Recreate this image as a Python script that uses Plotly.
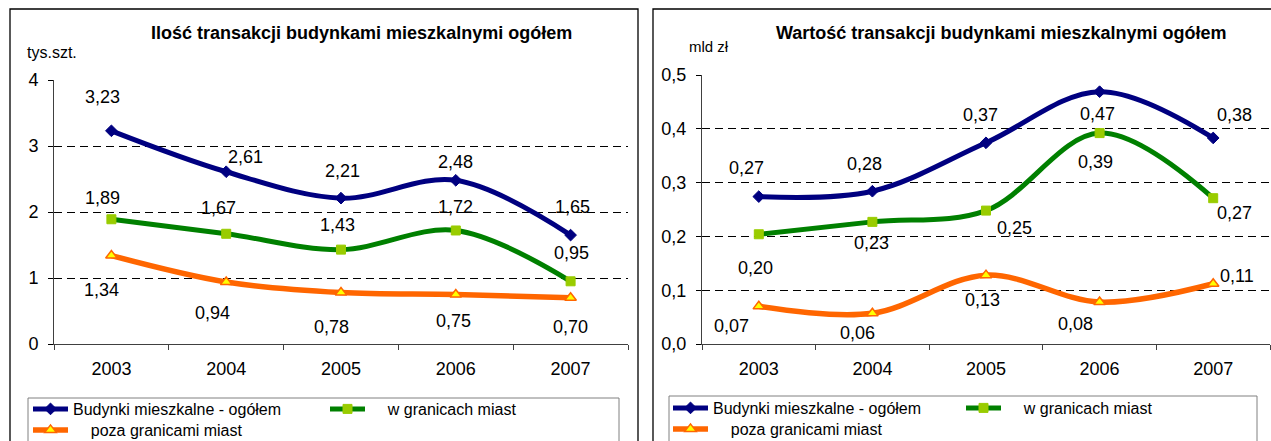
import plotly.graph_objects as go

# ---------------- data ----------------
years = ["2003", "2004", "2005", "2006", "2007"]

# left chart: number of transactions (thousand pcs.)
cnt_total = [3.23, 2.61, 2.21, 2.48, 1.65]
cnt_city = [1.89, 1.67, 1.43, 1.72, 0.95]
cnt_outside = [1.34, 0.94, 0.78, 0.75, 0.70]

# right chart: value of transactions (bn PLN)
val_total = [0.274, 0.284, 0.374, 0.469, 0.383]
val_city = [0.204, 0.227, 0.248, 0.392, 0.271]
val_outside = [0.070, 0.057, 0.128, 0.078, 0.112]

left_yticks = [0, 1, 2, 3, 4]
right_yticks = [0.0, 0.1, 0.2, 0.3, 0.4, 0.5]

series_names = ["Budynki mieszkalne - ogółem", "w granicach miast", "poza granicami miast"]
title_left = "Ilość transakcji budynkami mieszkalnymi ogółem"
title_right = "Wartość transakcji budynkami mieszkalnymi ogółem"
unit_left = "tys.szt."
unit_right = "mld zł"

# ---------------- styles ----------------
W, H = 1271, 441
FONT = "Liberation Sans"
C_BLUE, C_GREEN, C_ORANGE = "#000080", "#008000", "#FF6600"


def px(x):
    return x / W


def py(y):
    return (H - y) / H


# label offsets (pixels, dx right, dy up) per point
off_left = [
    [(-9, 34), (19, 15), (1, 27), (0, 18), (2, 28)],
    [(-9, 21), (-8, 26), (-4, 25), (0, 23), (1, 28)],
    [(-10, -34), (-14, -31), (-10, -34), (-2, -26), (0, -29)],
]
off_right = [
    [(-12, 29), (-8, 27), (-6, 28), (-2, -22), (21, 23)],
    [(-3, -34), (-1, -21), (28, -17), (-4, -29), (21, -15)],
    [(-27, -20), (-15, -20), (-4, -25), (-24, -22), (24, 8)],
]

styles = [
    dict(color=C_BLUE, width=5, symbol="diamond", mcolor=C_BLUE, mline=C_BLUE, msize=9, mlw=1),
    dict(color=C_GREEN, width=5, symbol="square", mcolor="#99CC00", mline="#99CC00", msize=9, mlw=1),
    dict(color=C_ORANGE, width=5.5, symbol="triangle-up", mcolor="#FFFF00", mline=C_ORANGE, msize=10, mlw=1.5),
]

NB = "\u00a0"
legend_labels = [series_names[0], NB * 4 + series_names[1], NB * 4 + series_names[2]]

fig = go.Figure()


def add_series(values_list, xa, ya, legends):
    for i, vals in enumerate(values_list):
        s = styles[i]
        fig.add_trace(go.Scatter(
            x=years, y=vals, xaxis=xa, yaxis=ya,
            name=legend_labels[i], legend=legends[i],
            mode="lines+markers",
            line=dict(color=s["color"], width=s["width"], shape="spline", smoothing=1.0),
            marker=dict(symbol=s["symbol"], size=s["msize"], color=s["mcolor"],
                        line=dict(color=s["mline"], width=s["mlw"])),
            hoverinfo="skip",
        ))


add_series([cnt_total, cnt_city, cnt_outside], "x", "y", ["legend", "legend", "legend3"])
add_series([val_total, val_city, val_outside], "x2", "y2", ["legend2", "legend2", "legend4"])

annotations = []


def fmt(v):
    return f"{v:.2f}".replace(".", ",")


for vals, offs in zip([cnt_total, cnt_city, cnt_outside], off_left):
    for i, (yv, (dx, dy)) in enumerate(zip(vals, offs)):
        annotations.append(dict(x=i, y=yv, xref="x", yref="y", text=fmt(yv), showarrow=False,
                                xshift=dx, yshift=dy, font=dict(family=FONT, size=18, color="black")))
for vals, offs in zip([val_total, val_city, val_outside], off_right):
    for i, (yv, (dx, dy)) in enumerate(zip(vals, offs)):
        annotations.append(dict(x=i, y=yv, xref="x2", yref="y2", text=fmt(yv), showarrow=False,
                                xshift=dx, yshift=dy, font=dict(family=FONT, size=18, color="black")))

# titles and units
annotations += [
    dict(x=px(361), y=py(33), xref="paper", yref="paper", text=f"<b>{title_left}</b>", showarrow=False,
         font=dict(family=FONT, size=18, color="black"), xanchor="center", yanchor="middle"),
    dict(x=px(1001), y=py(33), xref="paper", yref="paper", text=f"<b>{title_right}</b>", showarrow=False,
         font=dict(family=FONT, size=18, color="black"), xanchor="center", yanchor="middle"),
    dict(x=px(52), y=py(53), xref="paper", yref="paper", text=unit_left, showarrow=False,
         font=dict(family=FONT, size=16, color="black"), xanchor="center", yanchor="middle"),
    dict(x=px(709), y=py(47), xref="paper", yref="paper", text=unit_right, showarrow=False,
         font=dict(family=FONT, size=15, color="black"), xanchor="center", yanchor="middle"),
]

shapes = [
    dict(type="rect", xref="paper", yref="paper", x0=px(10), x1=px(638), y0=-0.2, y1=py(9),
         line=dict(color="black", width=1.3)),
    dict(type="rect", xref="paper", yref="paper", x0=px(653), x1=1.2, y0=-0.2, y1=py(9),
         line=dict(color="black", width=1.3)),
    dict(type="rect", xref="paper", yref="paper", x0=px(28), x1=px(619), y0=-0.2, y1=py(398),
         line=dict(color="#808080", width=1)),
    dict(type="rect", xref="paper", yref="paper", x0=px(669), x1=px(1257), y0=-0.2, y1=py(396),
         line=dict(color="#808080", width=1)),
]

xaxis_common = dict(
    type="category", range=[-0.5, 4.5], showgrid=False, zeroline=False,
    showline=True, linecolor="#404040", linewidth=1, mirror=False,
    ticks="outside", ticklen=5, tickcolor="#404040", tickson="boundaries",
    tickfont=dict(family=FONT, size=18, color="black"), ticklabelstandoff=8,
    fixedrange=True,
)
yaxis_common = dict(
    showgrid=True, gridcolor="black", gridwidth=1, griddash="8px,5px",
    zeroline=False, showline=True, linecolor="#404040", linewidth=1,
    ticks="outside", ticklen=5, tickcolor="black",
    tickfont=dict(family=FONT, size=18, color="black"), ticklabelstandoff=6,
    fixedrange=True,
)

leg_common = dict(
    orientation="h", font=dict(family=FONT, size=16, color="black"),
    bgcolor="rgba(0,0,0,0)", borderwidth=0, itemwidth=35,
    xanchor="left", yanchor="middle", entrywidthmode="pixels", tracegroupgap=0,
    itemclick=False, itemdoubleclick=False,
)

fig.update_layout(
    width=W, height=H,
    margin=dict(l=0, r=0, t=0, b=0, autoexpand=False),
    paper_bgcolor="white", plot_bgcolor="white",
    separators=",.",
    font=dict(family=FONT, color="black"),
    xaxis=dict(domain=[px(54), px(628)], anchor="y", **xaxis_common),
    yaxis=dict(domain=[py(344), py(80)], anchor="x", range=[0, 4], tickvals=left_yticks,
               **yaxis_common),
    xaxis2=dict(domain=[px(702), px(1270)], anchor="y2", **xaxis_common),
    yaxis2=dict(domain=[py(344), py(75)], anchor="x2", range=[0, 0.5], tickvals=right_yticks,
                tickformat=".1f", **yaxis_common),
    legend=dict(x=px(28), y=py(409), entrywidth=247, **leg_common),
    legend3=dict(x=px(28), y=py(430), **leg_common),
    legend2=dict(x=px(668), y=py(408), entrywidth=243, **leg_common),
    legend4=dict(x=px(668), y=py(429), **leg_common),
    annotations=annotations,
    shapes=shapes,
    showlegend=True,
)

fig.write_html("out.html", config={"displayModeBar": False},
               post_script="document.body.style.margin='0';")
